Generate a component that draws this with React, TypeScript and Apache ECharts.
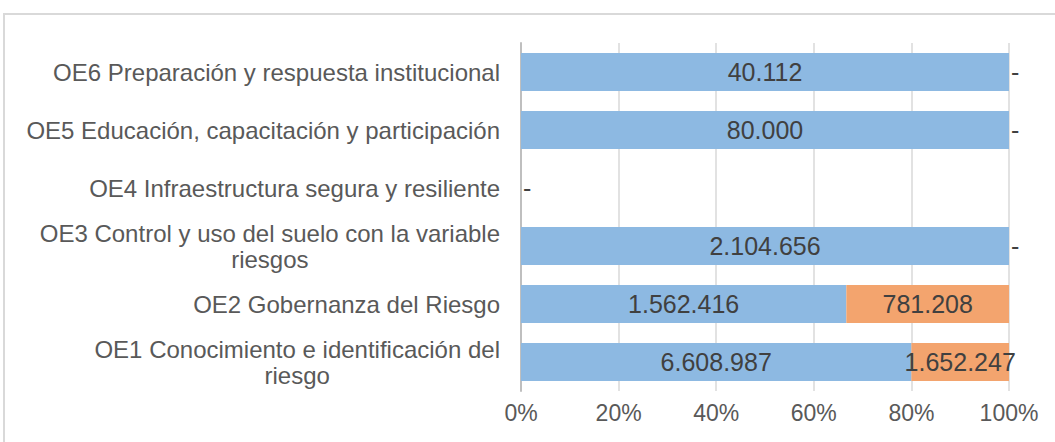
import React, { useEffect, useRef } from "react";
import * as echarts from "echarts";

const categories = [
  "OE1 Conocimiento e identificación del\nriesgo",
  "OE2 Gobernanza del Riesgo",
  "OE3 Control y uso del suelo con la variable\nriesgos",
  "OE4 Infraestructura segura y resiliente",
  "OE5 Educación, capacitación y participación",
  "OE6 Preparación y respuesta institucional",
];
const blueValues = [6608987, 1562416, 2104656, 0, 80000, 40112];
const orangeValues = [1652247, 781208, 0, 0, 0, 0];

const FONT = "'Liberation Sans', Arial, sans-serif";

function fmt(v: number): string {
  return String(Math.round(v)).replace(/\B(?=(\d{3})+(?!\d))/g, ".");
}

export default function App() {
  const ref = useRef<HTMLDivElement>(null);
  useEffect(() => {
    if (!ref.current) return;
    const chart = echarts.init(ref.current, null, { renderer: "svg" });
    const totals = blueValues.map((b, i) => b + orangeValues[i]);
    const mkData = (vals: number[], isOrange: boolean) =>
      vals.map((v, i) => {
        const t = totals[i];
        const pct = t ? (v / t) * 100 : 0;
        let label: any;
        if (v > 0) label = { show: true, position: "inside" };
        else if (isOrange && t === 0) label = { show: false };
        else label = { show: true, position: "right", distance: 2 };
        return { value: pct, label };
      });
    const labelBase = {
      fontFamily: FONT,
      fontSize: 25,
      color: "#404040",
    };
    chart.setOption({
      animation: false,
      graphic: [
        {
          type: "rect",
          silent: true,
          z: -10,
          shape: { x: 4, y: 14, width: 1200, height: 600 },
          style: { fill: "none", stroke: "#d9d9d9", lineWidth: 2 },
        },
      ],
      grid: { left: 521, right: 46, top: 43, bottom: 51, containLabel: false },
      xAxis: {
        type: "value",
        min: 0,
        max: 100,
        interval: 20,
        axisLine: { show: false },
        axisTick: { show: false },
        splitLine: { lineStyle: { color: "#d9d9d9", width: 1.5 } },
        axisLabel: {
          formatter: "{value}%",
          fontFamily: FONT,
          fontSize: 23,
          color: "#595959",
          margin: 10,
        },
      },
      yAxis: {
        type: "category",
        data: categories,
        axisLine: { show: true, lineStyle: { color: "#bfbfbf", width: 2 } },
        axisTick: { show: false },
        axisLabel: {
          margin: 21,
          fontFamily: FONT,
          fontSize: 24,
          color: "#595959",
          formatter: (val: string) =>
            val
              .split("\n")
              .map((l) => `{c|${l}}`)
              .join("\n"),
          rich: {
            c: {
              align: "center",
              fontFamily: FONT,
              fontSize: 24,
              color: "#595959",
              lineHeight: 26,
            },
          },
        },
      },
      series: [
        {
          name: "A",
          type: "bar",
          stack: "total",
          barWidth: 38,
          itemStyle: { color: "#8DB9E2" },
          label: {
            ...labelBase,
            formatter: (p: any) => {
              const v = blueValues[p.dataIndex];
              return v > 0 ? fmt(v) : "-";
            },
          },
          data: mkData(blueValues, false),
        },
        {
          name: "B",
          type: "bar",
          stack: "total",
          barWidth: 38,
          itemStyle: { color: "#F3A46E" },
          label: {
            ...labelBase,
            formatter: (p: any) => {
              const v = orangeValues[p.dataIndex];
              return v > 0 ? fmt(v) : "-";
            },
          },
          data: mkData(orangeValues, true),
        },
      ],
    });
    return () => chart.dispose();
  }, []);
  return (
    <div
      ref={ref}
      style={{ position: "absolute", left: 0, top: 0, width: 1055, height: 442, background: "#fff" }}
    />
  );
}
